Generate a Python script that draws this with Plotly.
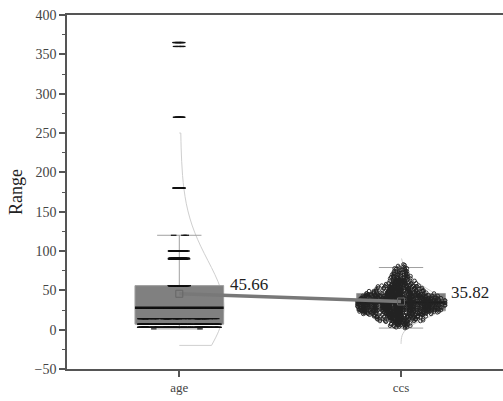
import numpy as np
import plotly.graph_objects as go

# ---- data ----
categories = ["age", "ccs"]

age_values = [1, 3, 7, 14, 28, 56, 90, 91, 100, 120, 180, 270, 360, 365]
age_counts = [2, 134, 126, 62, 425, 91, 54, 22, 52, 3, 26, 13, 6, 14]

ccs_values = [2, 3, 4, 5, 6, 7, 8, 9, 10, 11, 12, 13, 14, 15, 16, 17, 18, 19,
              20, 21, 22, 23, 24, 25, 26, 27, 28, 29, 30, 31, 32, 33, 34, 35,
              36, 37, 38, 39, 40, 41, 42, 43, 44, 45, 46, 47, 48, 49, 50, 51,
              52, 53, 54, 55, 56, 57, 58, 59, 60, 61, 62, 63, 64, 65, 66, 67,
              68, 69, 70, 71, 72, 73, 74, 75, 76, 77, 78, 79, 80, 81, 82, 83]
ccs_counts = [1, 2, 3, 4, 5, 5, 6, 6, 8, 10, 11, 12, 13, 13, 14, 15, 15, 17,
              19, 21, 22, 23, 24, 24, 24, 24, 24, 25, 25, 25, 25, 25, 25, 25,
              25, 25, 24, 24, 23, 22, 21, 20, 19, 18, 17, 17, 16, 15, 14, 14,
              13, 13, 12, 12, 10, 9, 10, 8, 8, 7, 8, 6, 6, 5, 5, 4,
              4, 4, 4, 4, 3, 3, 3, 3, 2, 2, 2, 2, 1, 1, 1, 1]

age = np.repeat(age_values, age_counts).astype(float)
ccs = np.repeat(ccs_values, ccs_counts).astype(float)
datasets = [age, ccs]

# ---- styling ----
SERIF = "Times New Roman, Liberation Serif, serif"
BOX_W = 0.40
bandwidths = [55, 8]
spans = [[-20, 250], [-18, 90]]
BAND = 3  # ccs values per jitter strip


def age_jitter(v):
    if v < 50:
        return 0.9
    if v <= 120:
        return 0.2
    return 0.1


fig = go.Figure()

# half-violin distribution curves
for i, (name, d) in enumerate(zip(categories, datasets)):
    fig.add_trace(go.Violin(
        y=d, x0=i, name=name, side="positive", width=BOX_W,
        bandwidth=bandwidths[i], spanmode="manual", span=spans[i],
        scalemode="width", points=False, box_visible=False, meanline_visible=False,
        line=dict(color="#cfcfcf", width=1), fillcolor="rgba(0,0,0,0)",
        hoverinfo="skip", showlegend=False))

# boxes (outlier markers hidden; points drawn separately)
for i, (name, d) in enumerate(zip(categories, datasets)):
    fig.add_trace(go.Box(
        y=d, x0=i, name=name, width=BOX_W, whiskerwidth=0.5,
        boxpoints="outliers", marker=dict(size=0.1, opacity=0),
        fillcolor="#808080", line=dict(color="#a0a0a0", width=1),
        showlegend=False, hoverinfo="skip"))

# median lines
for i, d in enumerate(datasets):
    med = float(np.median(d))
    fig.add_trace(go.Box(
        y=[med], x0=i, width=BOX_W, boxpoints=False,
        fillcolor="rgba(0,0,0,0)", line=dict(color="#111", width=2.5),
        showlegend=False, hoverinfo="skip"))

# data points (jittered by the library)
age_marker = dict(symbol="line-ew", size=4, color="#111", line=dict(width=1.2, color="#111"))
ccs_marker = dict(symbol="circle-open", size=3.6, color="#222", line=dict(width=0.9, color="#222"))
clear = dict(color="rgba(0,0,0,0)", width=0)

for v, c in zip(age_values, age_counts):
    fig.add_trace(go.Box(
        y=[float(v)] * c, x0=0, width=BOX_W, boxpoints="all", jitter=age_jitter(v), pointpos=0,
        marker=age_marker, fillcolor="rgba(0,0,0,0)", line=clear,
        whiskerwidth=0, showlegend=False, hoverinfo="skip"))

cmax = max(ccs_counts)
for s in range(0, len(ccs_values), BAND):
    vals = ccs_values[s:s + BAND]
    cnts = ccs_counts[s:s + BAND]
    strip = np.repeat(vals, cnts).astype(float)
    jit = (np.mean(cnts) / cmax) ** 0.7
    fig.add_trace(go.Box(
        y=strip, x0=1, width=BOX_W, boxpoints="all", jitter=float(jit), pointpos=0,
        marker=ccs_marker, fillcolor="rgba(0,0,0,0)", line=clear,
        whiskerwidth=0, showlegend=False, hoverinfo="skip"))

# mean connecting line
means = [float(np.mean(d)) for d in datasets]
fig.add_trace(go.Scatter(x=list(range(len(categories))), y=means, mode="lines+markers",
                         line=dict(color="#787878", width=3.5),
                         marker=dict(symbol="square-open", size=7, color="#666", line=dict(width=1)),
                         showlegend=False, hoverinfo="skip"))

for i, m in enumerate(means):
    fig.add_annotation(x=i + BOX_W / 2, y=m, text=f"{m:.2f}", showarrow=False,
                       xanchor="left", yanchor="middle", xshift=4, yshift=9,
                       font=dict(family=SERIF, size=17, color="#222"))

fig.update_layout(
    width=503, height=401,
    margin=dict(l=67, r=0, t=14.5, b=31.5),
    paper_bgcolor="white", plot_bgcolor="white",
    boxmode="overlay", violinmode="overlay",
    font=dict(family=SERIF, size=13, color="#444"),
)
fig.update_xaxes(range=[-0.5066, 1.46], tickvals=[0, 1], ticktext=categories,
                 showline=True, linecolor="#555", linewidth=1.6, mirror=True,
                 ticks="outside", ticklen=6, tickwidth=1.5, tickcolor="#555",
                 showgrid=False, zeroline=False,
                 tickfont=dict(family=SERIF, size=13, color="#444"))
fig.update_yaxes(range=[-50, 400], dtick=50, tick0=0,
                 showline=True, linecolor="#555", linewidth=1.6,
                 ticks="outside", ticklen=6, tickwidth=1.5, tickcolor="#555",
                 minor=dict(dtick=25, ticks="outside", ticklen=3, tickwidth=1.2, tickcolor="#555"),
                 showgrid=False, zeroline=False,
                 tickfont=dict(family=SERIF, size=14, color="#444"),
                 title=dict(text="Range", standoff=7, font=dict(family=SERIF, size=18, color="#222")))

fig.write_html("out.html")
